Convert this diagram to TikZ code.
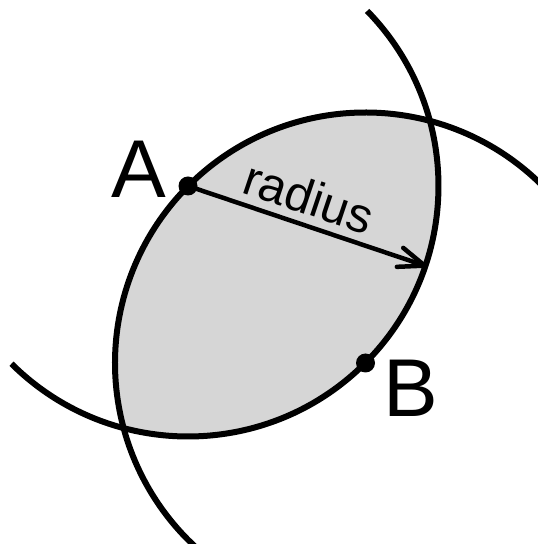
\documentclass[tikz,border=0pt]{standalone}
\usepackage{fontspec}
\setmainfont{Liberation Sans}
\usetikzlibrary{arrows.meta}
\definecolor{lensgray}{gray}{0.84}
\begin{document}
\begin{tikzpicture}[x=1pt,y=1pt,
  curve/.style={line width=6pt},
  lens/.style={fill=lensgray},
  dot/.style={circle,fill=black,inner sep=0pt,minimum size=19pt},
  lbl/.style={inner sep=0pt,font=\fontsize{82}{90}\selectfont},
  radarrow/.style={line width=4.5pt,-{Straight Barb[length=26pt,width=20pt,round]}}]
\useasboundingbox (0,0) rectangle (538,544);
\clip (0,0) rectangle (538,544);
\coordinate (A) at (188,358);
\coordinate (B) at (365.5,181);
\def\myr{250.5}
\begin{scope}
\clip (A) circle (\myr);
\fill[lens] (B) circle (\myr);
\end{scope}
\draw[curve] (A) ++(225.2:\myr) arc[start angle=225.2,end angle=404.35,radius=\myr];
\draw[curve] (B) ++(44:\myr) arc[start angle=44,end angle=229,radius=\myr];
\path (A) ++(-18.6:252) coordinate (E);
\draw[radarrow] (A) -- node[sloped,anchor=south,inner sep=8pt,pos=0.47,font=\fontsize{49}{54}\selectfont] (r) {radius} (E);
\node[dot] (a) at (A) {};
\node[dot] (b) at (B) {};
\node[lbl] (la) at (139,375) {A};
\node[lbl] (lb) at (411,156) {B};
\end{tikzpicture}
\end{document}
